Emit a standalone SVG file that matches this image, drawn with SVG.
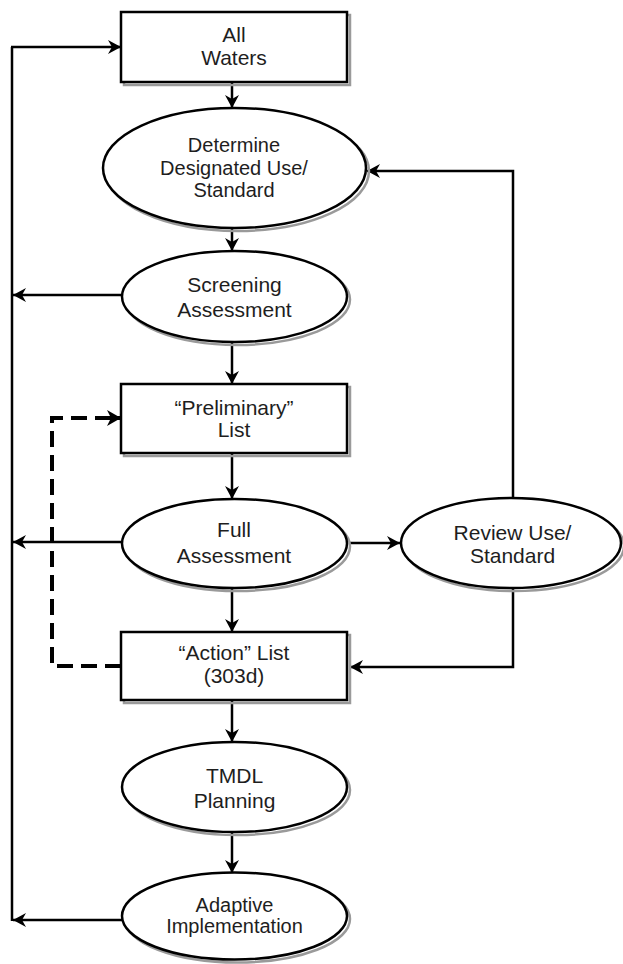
<svg xmlns="http://www.w3.org/2000/svg" width="623" height="964" viewBox="0 0 623 964">
  <defs>
    <marker id="arrow" markerUnits="userSpaceOnUse" markerWidth="16" markerHeight="16" refX="13" refY="7" orient="auto">
      <path d="M0,0 L13,7 L0,14 L4,7 z" fill="#000"/>
    </marker>
    <marker id="arrowBold" markerUnits="userSpaceOnUse" markerWidth="18" markerHeight="18" refX="14" refY="8" orient="auto">
      <path d="M0,0 L14,8 L0,16 L4,8 z" fill="#000"/>
    </marker>
  </defs>
  <style>
    .box { fill: #fff; stroke: #000; stroke-width: 2.5; }
    .oval { fill: #fff; stroke: #000; stroke-width: 2.5; }
    .shadow { fill: none; stroke: #9a9a9a; stroke-width: 2.5; }
    .label { font-family: "Liberation Sans", Arial, sans-serif; font-size: 21px; fill: #1e1e1e; text-anchor: middle; }
    .small { font-size: 20px; }
    .conn { fill: none; stroke: #000; stroke-width: 2.5; marker-end: url(#arrow); }
    .line { fill: none; stroke: #000; stroke-width: 2.5; }
    .dash { fill: none; stroke: #000; stroke-width: 4; stroke-dasharray: 16 8; }
  </style>
  <rect width="623" height="964" fill="#fff"/>

  <!-- connectors -->
  <g id="connectors">
    <!-- main downward flow -->
    <line class="conn" x1="232" y1="82" x2="232" y2="108"/>
    <line class="conn" x1="232" y1="228" x2="232" y2="251"/>
    <line class="conn" x1="232" y1="342" x2="232" y2="384"/>
    <line class="conn" x1="232" y1="453" x2="232" y2="499"/>
    <line class="conn" x1="232" y1="588" x2="232" y2="632"/>
    <line class="conn" x1="232" y1="700" x2="232" y2="742"/>
    <line class="conn" x1="232" y1="832" x2="232" y2="873"/>
    <!-- return loop on the left -->
    <polyline class="line" points="12,921 12,47" stroke-width="3"/>
    <line class="conn" x1="11" y1="47" x2="121" y2="47" stroke-width="3"/>
    <line class="conn" x1="122" y1="295" x2="13" y2="295"/>
    <line class="conn" x1="122" y1="542" x2="13" y2="542"/>
    <line class="conn" x1="122" y1="920" x2="13" y2="920" stroke-width="3"/>
    <!-- review branch -->
    <line class="conn" x1="350" y1="543" x2="400" y2="543"/>
    <polyline class="conn" points="513,498 513,171 367,171"/>
    <polyline class="conn" points="513,588 513,667 350,667"/>
    <!-- dashed feedback from action list to preliminary list -->
    <polyline class="dash" points="121,666 52,666 52,418 108,418"/>
    <line x1="104" y1="418" x2="121" y2="418" stroke="#000" stroke-width="4" marker-end="url(#arrowBold)"/>
  </g>

  <g id="all-waters">
    <rect class="shadow" x="124" y="15" width="226" height="70"/>
    <rect class="box" x="121" y="12" width="226" height="70"/>
    <text class="label" x="234" y="42">All</text>
    <text class="label" x="234" y="65">Waters</text>
  </g>

  <g id="determine-use">
    <ellipse class="shadow" cx="237.5" cy="171" rx="131.5" ry="60"/>
    <ellipse class="oval" cx="234.5" cy="168" rx="131.5" ry="60"/>
    <text class="label small" x="234" y="152">Determine</text>
    <text class="label small" x="234" y="175">Designated Use/</text>
    <text class="label small" x="234" y="197">Standard</text>
  </g>

  <g id="screening">
    <ellipse class="shadow" cx="237.5" cy="299.5" rx="112.5" ry="45.5"/>
    <ellipse class="oval" cx="234.5" cy="296.5" rx="112.5" ry="45.5"/>
    <text class="label" x="234.5" y="292">Screening</text>
    <text class="label" x="234.5" y="317">Assessment</text>
  </g>

  <g id="preliminary-list">
    <rect class="shadow" x="124" y="387" width="226" height="69"/>
    <rect class="box" x="121" y="384" width="226" height="69"/>
    <text class="label" x="234" y="415">“Preliminary”</text>
    <text class="label" x="234" y="437">List</text>
  </g>

  <g id="full-assessment">
    <ellipse class="shadow" cx="237.5" cy="546.5" rx="112.5" ry="44.5"/>
    <ellipse class="oval" cx="234.5" cy="543.5" rx="112.5" ry="44.5"/>
    <text class="label" x="234" y="537">Full</text>
    <text class="label" x="234" y="563">Assessment</text>
  </g>

  <g id="review-use">
    <ellipse class="shadow" cx="514" cy="546" rx="110" ry="45"/>
    <ellipse class="oval" cx="511" cy="543" rx="110" ry="45"/>
    <text class="label" x="512.5" y="540">Review Use/</text>
    <text class="label" x="512.5" y="563">Standard</text>
  </g>

  <g id="action-list">
    <rect class="shadow" x="124" y="635" width="226" height="68"/>
    <rect class="box" x="121" y="632" width="226" height="68"/>
    <text class="label" x="234" y="660">“Action” List</text>
    <text class="label" x="234" y="683">(303d)</text>
  </g>

  <g id="tmdl-planning">
    <ellipse class="shadow" cx="237.5" cy="790" rx="112.5" ry="45"/>
    <ellipse class="oval" cx="234.5" cy="787" rx="112.5" ry="45"/>
    <text class="label" x="234.5" y="783">TMDL</text>
    <text class="label" x="234.5" y="808">Planning</text>
  </g>

  <g id="adaptive-implementation">
    <ellipse class="shadow" cx="237.5" cy="919" rx="112.5" ry="43.5"/>
    <ellipse class="oval" cx="234.5" cy="916" rx="112.5" ry="43.5"/>
    <text class="label small" x="234.5" y="912">Adaptive</text>
    <text class="label small" x="234.5" y="933">Implementation</text>
  </g>
</svg>
